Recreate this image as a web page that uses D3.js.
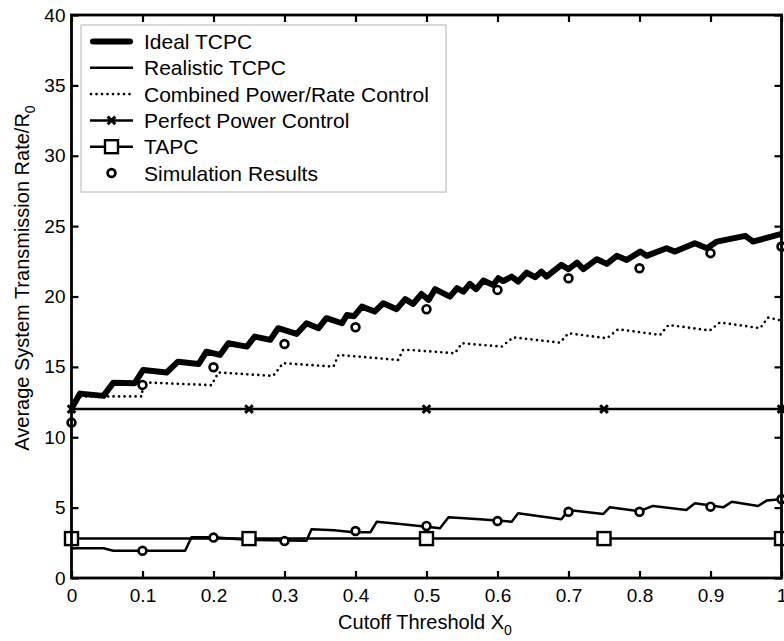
<!DOCTYPE html>
<html>
<head>
<meta charset="utf-8">
<script src="https://cdn.jsdelivr.net/npm/d3@7"></script>
<style>
  body { margin: 0; background: #fff; }
  svg { display: block; font-family: "Liberation Sans", Arial, sans-serif; }
</style>
</head>
<body>
<div id="chart"></div>
<script>
// Ideal TCPC (thick sawtooth)
const idealX = [0, 0.012, 0.045, 0.059, 0.089, 0.101, 0.134, 0.150, 0.179, 0.190, 0.209, 0.221, 0.247, 0.258, 0.280, 0.291, 0.317, 0.331, 0.348, 0.359, 0.381, 0.388, 0.398, 0.409, 0.427, 0.439, 0.458, 0.470, 0.481, 0.493, 0.503, 0.512, 0.533, 0.543, 0.552, 0.561, 0.570, 0.580, 0.594, 0.601, 0.608, 0.620, 0.629, 0.641, 0.653, 0.662, 0.669, 0.690, 0.700, 0.712, 0.721, 0.740, 0.754, 0.768, 0.782, 0.801, 0.810, 0.838, 0.850, 0.878, 0.895, 0.909, 0.949, 0.960, 1.0];
const idealY = [12.06, 13.1, 12.94, 13.88, 13.84, 14.78, 14.6, 15.37, 15.2, 16.08, 15.85, 16.68, 16.44, 17.15, 16.92, 17.75, 17.34, 18.1, 17.75, 18.46, 18.1, 18.69, 18.6, 19.28, 18.93, 19.52, 19.1, 19.81, 19.47, 20.18, 19.76, 20.52, 19.99, 20.59, 20.35, 20.9, 20.52, 21.13, 20.82, 21.3, 21.1, 21.41, 21.06, 21.7, 21.37, 21.77, 21.41, 22.25, 21.94, 22.41, 21.94, 22.65, 22.32, 22.89, 22.60, 23.19, 22.89, 23.43, 23.19, 23.79, 23.43, 23.90, 24.31, 23.90, 24.45];

// Realistic TCPC (thin line)
const realX = [0, 0.007, 0.045, 0.059, 0.160, 0.169, 0.2, 0.25, 0.331, 0.338, 0.37, 0.397, 0.421, 0.43, 0.463, 0.49, 0.519, 0.531, 0.575, 0.62, 0.629, 0.69, 0.70, 0.749, 0.758, 0.80, 0.819, 0.866, 0.878, 0.918, 0.930, 0.967, 0.979, 1.0];
const realY = [2.1, 2.11, 2.11, 1.94, 1.94, 2.89, 2.9, 2.7, 2.65, 3.46, 3.4, 3.25, 3.25, 4.0, 3.84, 3.7, 3.53, 4.31, 4.17, 4.0, 4.6, 4.17, 4.83, 4.55, 5.02, 4.75, 5.12, 4.83, 5.31, 5.02, 5.42, 5.12, 5.5, 5.6];

// Combined Power/Rate Control (dotted staircase)
const combX = [0, 0.01, 0.099, 0.101, 0.197, 0.207, 0.284, 0.298, 0.369, 0.376, 0.460, 0.467, 0.477, 0.540, 0.550, 0.606, 0.622, 0.688, 0.700, 0.754, 0.770, 0.829, 0.841, 0.899, 0.913, 0.970, 0.981, 1.0];
const combY = [12.0, 12.9, 12.9, 13.9, 13.7, 14.6, 14.36, 15.26, 15.02, 15.85, 15.49, 16.2, 16.2, 15.97, 16.68, 16.44, 17.1, 16.72, 17.39, 17.03, 17.67, 17.27, 17.98, 17.58, 18.15, 17.75, 18.5, 18.29];

// Perfect Power Control and TAPC (flat lines with markers)
const markX = [0, 0.25, 0.5, 0.75, 1];
const perfectValue = 12;
const tapcValue = 2.8;

// Simulation results
const simX = [0, 0.1, 0.2, 0.3, 0.4, 0.5, 0.6, 0.7, 0.8, 0.9, 1.0];
const simUpper = [11.04, 13.72, 14.97, 16.63, 17.81, 19.1, 20.47, 21.3, 22.01, 23.08, 23.55];
const simLowerX = [0.1, 0.2, 0.3, 0.4, 0.5, 0.6, 0.7, 0.8, 0.9, 1.0];
const simLower = [1.94, 2.87, 2.63, 3.34, 3.7, 4.05, 4.71, 4.71, 5.07, 5.6];

const xTicks = [0, 0.1, 0.2, 0.3, 0.4, 0.5, 0.6, 0.7, 0.8, 0.9, 1];
const yTicks = [0, 5, 10, 15, 20, 25, 30, 35, 40];
const legendLabels = ["Ideal TCPC", "Realistic TCPC", "Combined Power/Rate Control", "Perfect Power Control", "TAPC", "Simulation Results"];

const width = 784, height = 641;
const plot = { left: 71.5, right: 781.5, top: 15, bottom: 578 };

const x = d3.scaleLinear().domain([0, 1]).range([plot.left, plot.right]);
const y = d3.scaleLinear().domain([0, 40]).range([plot.bottom, plot.top]);

const svg = d3.select("#chart").append("svg")
    .attr("width", width)
    .attr("height", height);

const pairs = (xs, ys) => xs.map((d, i) => [d, ys[i]]);
const line = d3.line().x(d => x(d[0])).y(d => y(d[1]));

// lines
svg.append("path")
    .attr("d", line(pairs(combX, combY)))
    .attr("fill", "none").attr("stroke", "#000")
    .attr("stroke-width", 2.7)
    .attr("stroke-linecap", "round")
    .attr("stroke-dasharray", "0,5.5");

svg.append("path")
    .attr("d", line(pairs(idealX, idealY)))
    .attr("fill", "none").attr("stroke", "#000")
    .attr("stroke-width", 6)
    .attr("stroke-linejoin", "round");

svg.append("path")
    .attr("d", line(pairs(realX, realY)))
    .attr("fill", "none").attr("stroke", "#000")
    .attr("stroke-width", 2.5)
    .attr("stroke-linejoin", "round");

svg.append("path")
    .attr("d", line([[0, perfectValue], [1, perfectValue]]))
    .attr("stroke", "#000").attr("stroke-width", 2.5);

svg.append("path")
    .attr("d", line([[0, tapcValue], [1, tapcValue]]))
    .attr("stroke", "#000").attr("stroke-width", 2.5);

// markers
function crossPath(cx, cy, s) {
    return `M${cx - s},${cy - s}L${cx + s},${cy + s}M${cx - s},${cy + s}L${cx + s},${cy - s}`;
}

svg.append("g").selectAll("path")
    .data(markX)
    .join("path")
    .attr("d", d => crossPath(x(d), y(perfectValue), 3.8))
    .attr("stroke", "#000").attr("stroke-width", 3);

svg.append("g").selectAll("rect")
    .data(markX)
    .join("rect")
    .attr("x", d => x(d) - 6.5).attr("y", y(tapcValue) - 6.5)
    .attr("width", 13).attr("height", 13)
    .attr("fill", "#fff").attr("stroke", "#000").attr("stroke-width", 2.4);

svg.append("g").selectAll("circle")
    .data(pairs(simX, simUpper).concat(pairs(simLowerX, simLower)))
    .join("circle")
    .attr("cx", d => x(d[0])).attr("cy", d => y(d[1]))
    .attr("r", 3.9)
    .attr("fill", "#fff").attr("stroke", "#000").attr("stroke-width", 2.7);

// axes (inward ticks)
const fmt = d3.format("~g");
const axisFont = g => g.selectAll("text").attr("font-size", 19).attr("fill", "#000")
    .attr("font-family", "'Liberation Sans', Arial, sans-serif");

svg.append("g")
    .attr("transform", `translate(0,${plot.bottom})`)
    .call(d3.axisBottom(x).tickValues(xTicks).tickFormat(fmt).tickSize(-7).tickPadding(11))
    .call(axisFont);

svg.append("g")
    .attr("transform", `translate(0,${plot.top})`)
    .call(d3.axisTop(x).tickValues(xTicks).tickFormat("").tickSize(-7));

svg.append("g")
    .attr("transform", `translate(${plot.left},0)`)
    .call(d3.axisLeft(y).tickValues(yTicks).tickFormat(fmt).tickSize(-7).tickPadding(6))
    .call(axisFont);

svg.append("g")
    .attr("transform", `translate(${plot.right},0)`)
    .call(d3.axisRight(y).tickValues(yTicks).tickFormat("").tickSize(-7));

svg.selectAll(".domain").remove();
svg.selectAll(".tick line").attr("stroke", "#000").attr("stroke-width", 2.2);

svg.append("rect")
    .attr("x", plot.left).attr("y", plot.top)
    .attr("width", plot.right - plot.left).attr("height", plot.bottom - plot.top)
    .attr("fill", "none").attr("stroke", "#000").attr("stroke-width", 2.8);

// axis titles
const xTitle = svg.append("text")
    .attr("x", 425).attr("y", 629)
    .attr("text-anchor", "middle")
    .attr("font-size", 20);
xTitle.append("tspan").text("Cutoff Threshold X");
xTitle.append("tspan").attr("font-size", 14).attr("dy", 6).text("0");

const yTitle = svg.append("text")
    .attr("transform", "translate(29,278) rotate(-90)")
    .attr("text-anchor", "middle")
    .attr("font-size", 20);
yTitle.append("tspan").text("Average System Transmission Rate/R");
yTitle.append("tspan").attr("font-size", 14).attr("dy", 6).text("0");

// legend
const legend = svg.append("g");
legend.append("rect")
    .attr("x", 81).attr("y", 25).attr("width", 365).attr("height", 167)
    .attr("fill", "#fff").attr("stroke", "#b4b4b4").attr("stroke-width", 1);

const rowY = i => 41.5 + i * 26.3;
const sx0 = 90, sx1 = 133, smid = 111.5;

legend.append("line").attr("x1", sx0 + 3).attr("x2", sx1 - 3).attr("y1", rowY(0)).attr("y2", rowY(0))
    .attr("stroke", "#000").attr("stroke-width", 6).attr("stroke-linecap", "round");
legend.append("line").attr("x1", sx0).attr("x2", sx1).attr("y1", rowY(1)).attr("y2", rowY(1))
    .attr("stroke", "#000").attr("stroke-width", 2.5);
legend.append("line").attr("x1", sx0 + 1).attr("x2", sx1).attr("y1", rowY(2)).attr("y2", rowY(2))
    .attr("stroke", "#000").attr("stroke-width", 2.7).attr("stroke-linecap", "round")
    .attr("stroke-dasharray", "0,5.5");
legend.append("line").attr("x1", sx0).attr("x2", sx1).attr("y1", rowY(3)).attr("y2", rowY(3))
    .attr("stroke", "#000").attr("stroke-width", 2.5);
legend.append("path").attr("d", crossPath(smid, rowY(3), 3.8))
    .attr("stroke", "#000").attr("stroke-width", 3);
legend.append("line").attr("x1", sx0).attr("x2", sx1).attr("y1", rowY(4)).attr("y2", rowY(4))
    .attr("stroke", "#000").attr("stroke-width", 2.5);
legend.append("rect").attr("x", smid - 6.5).attr("y", rowY(4) - 6.5).attr("width", 13).attr("height", 13)
    .attr("fill", "#fff").attr("stroke", "#000").attr("stroke-width", 2.4);
legend.append("circle").attr("cx", smid).attr("cy", rowY(5)).attr("r", 3.9)
    .attr("fill", "#fff").attr("stroke", "#000").attr("stroke-width", 2.7);

legend.selectAll("text.lbl")
    .data(legendLabels)
    .join("text")
    .attr("class", "lbl")
    .attr("x", 144)
    .attr("y", (d, i) => rowY(i) + 7.5)
    .attr("font-size", 21)
    .text(d => d);
</script>
</body>
</html>
